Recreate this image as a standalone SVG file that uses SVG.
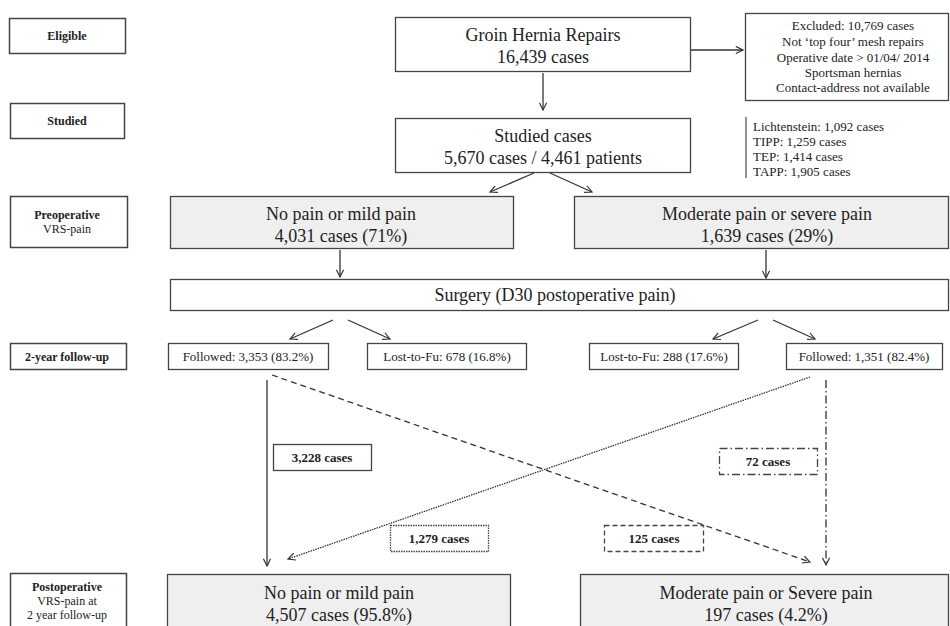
<svg xmlns="http://www.w3.org/2000/svg" width="950" height="626" viewBox="0 0 950 626">
<style>
  text { font-family: "Liberation Serif", "Times New Roman", serif; fill: #222; text-anchor: middle; }
  .lbl rect { fill: #fff; stroke: #444; stroke-width: 1.5; }
  .lbl text { font-size: 12px; }
  .b { font-weight: bold; }
  .box rect { fill: #fff; stroke: #444; stroke-width: 1.3; }
  .gray rect { fill: #efefef; }
  .big { font-size: 18px; }
  .sm { font-size: 13px; }
  .cnt rect { fill: #fff; stroke: #444; stroke-width: 1.3; }
  .cnt text { font-size: 13px; font-weight: bold; }
  .conn line, .conn path { stroke: #333; stroke-width: 1.3; fill: none; }
</style>
<defs>
  <marker id="ah" viewBox="0 0 10 10" refX="9" refY="5" markerWidth="9" markerHeight="9" markerUnits="userSpaceOnUse" orient="auto">
    <path d="M1,1 L9,5 L1,9" fill="none" stroke="#333" stroke-width="1.3"/>
  </marker>
</defs>
<rect width="950" height="626" fill="#fff"/>

<g id="lbl-eligible" class="lbl"><rect x="9.5" y="18.5" width="116" height="35"/><text x="67" y="40" class="b">Eligible</text></g>
<g id="lbl-studied" class="lbl"><rect x="10.5" y="103.5" width="114" height="35"/><text x="67" y="125" class="b">Studied</text></g>
<g id="lbl-preop" class="lbl"><rect x="10.5" y="196.5" width="117" height="51"/><text x="67" y="219" class="b">Preoperative</text><text x="67" y="233">VRS-pain</text></g>
<g id="lbl-fu" class="lbl"><rect x="10.5" y="343.5" width="116" height="26"/><text x="67" y="361" class="b">2-year follow-up</text></g>
<g id="lbl-postop" class="lbl"><rect x="10.5" y="573.5" width="116" height="60"/><text x="67" y="591" class="b">Postoperative</text><text x="67" y="605">VRS-pain at</text><text x="67" y="619">2 year follow-up</text></g>

<g id="groin" class="box"><rect x="395.5" y="17.5" width="295" height="54"/><text x="543" y="41" class="big">Groin Hernia Repairs</text><text x="543" y="63" class="big">16,439 cases</text></g>
<g id="excluded" class="box"><rect x="745.5" y="13.5" width="203" height="87"/>
  <text x="853" y="30" class="sm">Excluded:  10,769 cases</text>
  <text x="853" y="46" class="sm">Not ‘top four’ mesh repairs</text>
  <text x="853" y="62" class="sm">Operative date &gt; 01/04/ 2014</text>
  <text x="853" y="77" class="sm">Sportsman hernias</text>
  <text x="853" y="92" class="sm">Contact-address not available</text>
</g>
<g id="studied" class="box"><rect x="395.5" y="118.5" width="295" height="54"/><text x="543" y="142" class="big">Studied cases</text><text x="543" y="164" class="big">5,670 cases / 4,461 patients</text></g>
<g id="techniques">
  <line x1="746" y1="117" x2="746" y2="178" stroke="#555" stroke-width="1.3"/>
  <text x="753" y="131" class="sm" style="text-anchor:start">Lichtenstein: 1,092 cases</text>
  <text x="753" y="146" class="sm" style="text-anchor:start">TIPP: 1,259 cases</text>
  <text x="753" y="161" class="sm" style="text-anchor:start">TEP:  1,414 cases</text>
  <text x="753" y="176" class="sm" style="text-anchor:start">TAPP: 1,905 cases</text>
</g>
<g id="pre-mild" class="box gray"><rect x="170.5" y="196.5" width="343" height="52"/><text x="341" y="220" class="big">No pain or mild pain</text><text x="341" y="242" class="big">4,031 cases (71%)</text></g>
<g id="pre-mod" class="box gray"><rect x="574.5" y="196.5" width="374" height="52"/><text x="767" y="220" class="big">Moderate pain or severe pain</text><text x="767" y="242" class="big">1,639 cases (29%)</text></g>
<g id="surgery" class="box"><rect x="170.5" y="279.5" width="778" height="31"/><text x="555" y="301" class="big">Surgery (D30 postoperative pain)</text></g>
<g id="fol-left" class="box"><rect x="168.5" y="343.5" width="160" height="26"/><text x="248" y="361" class="sm">Followed: 3,353 (83.2%)</text></g>
<g id="lost-left" class="box"><rect x="367.5" y="343.5" width="159" height="26"/><text x="447" y="361" class="sm">Lost-to-Fu: 678 (16.8%)</text></g>
<g id="lost-right" class="box"><rect x="589.5" y="343.5" width="149" height="26"/><text x="664" y="361" class="sm">Lost-to-Fu: 288 (17.6%)</text></g>
<g id="fol-right" class="box"><rect x="786.5" y="343.5" width="156" height="26"/><text x="864" y="361" class="sm">Followed: 1,351 (82.4%)</text></g>
<g id="post-mild" class="box gray"><rect x="167.5" y="574.5" width="343" height="60"/><text x="339" y="599" class="big">No pain or mild pain</text><text x="339" y="621" class="big">4,507 cases (95.8%)</text></g>
<g id="post-mod" class="box gray"><rect x="580.5" y="574.5" width="368" height="60"/><text x="766" y="599" class="big">Moderate pain or Severe pain</text><text x="766" y="621" class="big">197 cases (4.2%)</text></g>

<g id="connectors" class="conn">
  <line x1="691" y1="50" x2="743" y2="50" marker-end="url(#ah)"/>
  <line x1="543" y1="73" x2="543" y2="110" marker-end="url(#ah)"/>
  <line x1="534" y1="173" x2="490" y2="192" marker-end="url(#ah)"/>
  <line x1="550" y1="173" x2="592" y2="192" marker-end="url(#ah)"/>
  <line x1="340" y1="250" x2="340" y2="277" marker-end="url(#ah)"/>
  <line x1="766" y1="250" x2="766" y2="278" marker-end="url(#ah)"/>
  <line x1="333" y1="320" x2="290" y2="339" marker-end="url(#ah)"/>
  <line x1="348" y1="320" x2="390" y2="339" marker-end="url(#ah)"/>
  <line x1="758" y1="320" x2="713" y2="339" marker-end="url(#ah)"/>
  <line x1="773" y1="320" x2="815" y2="339" marker-end="url(#ah)"/>
  <line x1="267" y1="380" x2="267" y2="566" marker-end="url(#ah)"/>
  <line x1="272" y1="375" x2="810" y2="562" stroke-dasharray="6,4" marker-end="url(#ah)"/>
  <line x1="810" y1="377" x2="288" y2="559" stroke-dasharray="1.5,1" stroke-width="1" marker-end="url(#ah)"/>
  <line x1="826" y1="380" x2="826" y2="565" stroke-dasharray="8,3,1.5,3" marker-end="url(#ah)"/>
</g>

<g id="c3228" class="cnt"><rect x="273.5" y="444.5" width="98" height="26"/><text x="322" y="462">3,228 cases</text></g>
<g id="c72" class="cnt"><rect x="719.5" y="448.5" width="98" height="26" stroke-dasharray="8,3,1.5,3"/><text x="768" y="466">72 cases</text></g>
<g id="c1279" class="cnt"><rect x="390.5" y="525.5" width="98" height="26" stroke-dasharray="1.5,1" stroke-width="1"/><text x="439" y="543">1,279 cases</text></g>
<g id="c125" class="cnt"><rect x="604.5" y="525.5" width="99" height="26" stroke-dasharray="5,3"/><text x="654" y="543">125 cases</text></g>
</svg>
